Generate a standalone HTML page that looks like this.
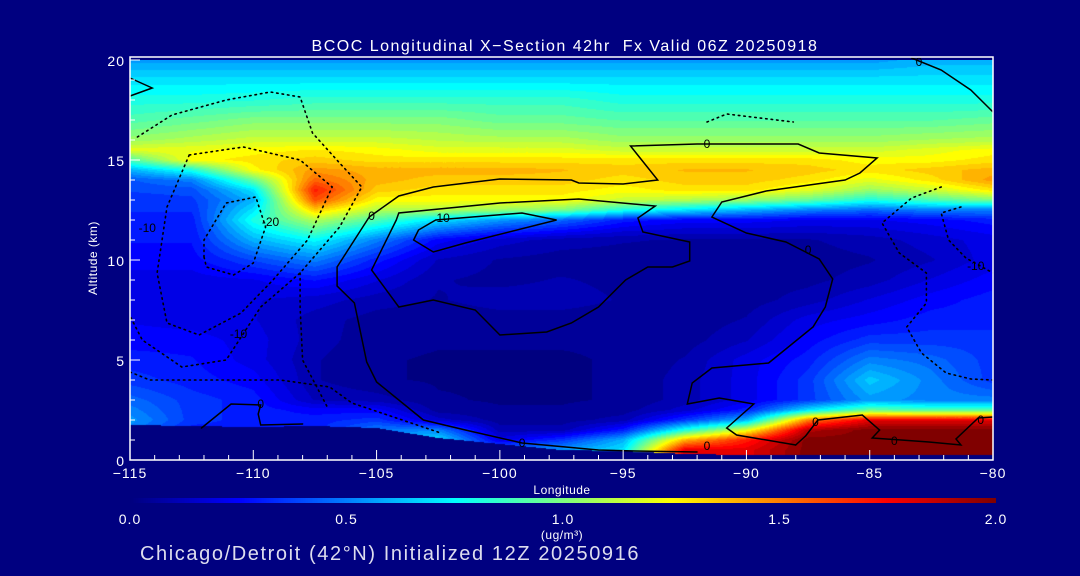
<!DOCTYPE html>
<html><head><meta charset="utf-8"><style>
html,body{margin:0;padding:0;background:#000080;}
#root{position:relative;width:1080px;height:576px;background:#000080;overflow:hidden;font-family:"Liberation Sans",sans-serif;color:#fff;}
svg text{font-family:"Liberation Sans",sans-serif;}
</style></head><body>
<div id="root">
<canvas id="field" width="863" height="400" style="position:absolute;left:130px;top:60px;"></canvas>
<canvas id="cbar" width="866" height="5" style="position:absolute;left:130px;top:498px;"></canvas>
<svg id="ov" width="1080" height="576" style="position:absolute;left:0;top:0;"></svg>
</div>
<script>
const lons=[-115,-112.5,-110,-107.5,-105,-102.5,-100,-97.5,-95,-92.5,-90,-87.5,-85,-82.5,-80];
const alts=[0,0.5,1,1.5,2,2.5,3,4,5,6,7,8,9,10,11,12,12.5,13,13.5,14,14.5,15,15.5,16,17,18,19,20];
const r0=[0.3,0.3,0.3,0.3,0.3,0.4,0.5,0.55,0.7,1.8,1.8,2,2,2,2];
const r05=[0.3,0.3,0.3,0.3,0.3,0.4,0.5,0.55,0.7,1.8,1.8,2,2,2,2];
const r1=[0.4,0.3,0.3,0.3,0.6,0.7,0.2,0.35,0.6,1.4,1.7,2,2,2,2];
const r15=[0.5,0.3,0.3,0.3,0.5,0.5,0.1,0.1,0.3,0.8,1.2,1.9,2,2,2];
const r2=[0.55,0.35,0.3,0.3,0.35,0.15,0.05,0.05,0.1,0.35,0.6,1.5,1.8,1.8,1.8];
const r25=[0.5,0.35,0.3,0.25,0.25,0.05,0.03,0.03,0.05,0.15,0.3,0.7,0.95,0.9,0.9];
const r3=[0.45,0.35,0.3,0.12,0.1,0.03,0.02,0.02,0.03,0.1,0.2,0.35,0.55,0.5,0.5];
const r4=[0.35,0.3,0.25,0.08,0.03,0.02,0.02,0.02,0.03,0.1,0.2,0.35,0.65,0.5,0.35];
const r5=[0.3,0.28,0.2,0.08,0.03,0.02,0.02,0.02,0.03,0.08,0.2,0.3,0.5,0.45,0.35];
const r6=[0.25,0.25,0.2,0.1,0.04,0.03,0.03,0.03,0.03,0.05,0.12,0.25,0.35,0.35,0.35];
const r7=[0.22,0.2,0.18,0.1,0.05,0.04,0.05,0.05,0.04,0.04,0.08,0.2,0.25,0.3,0.3];
const r8=[0.2,0.18,0.18,0.15,0.1,0.07,0.1,0.1,0.07,0.05,0.05,0.1,0.18,0.25,0.3];
const r9=[0.2,0.2,0.22,0.28,0.18,0.08,0.06,0.08,0.06,0.04,0.05,0.06,0.1,0.18,0.25];
const r10=[0.25,0.25,0.38,0.5,0.3,0.12,0.07,0.05,0.05,0.04,0.04,0.05,0.07,0.12,0.2];
const r11=[0.28,0.28,0.6,0.75,0.5,0.25,0.15,0.1,0.08,0.07,0.07,0.07,0.1,0.15,0.2];
const r12=[0.3,0.3,0.8,1.1,0.9,0.7,0.55,0.45,0.3,0.25,0.25,0.22,0.22,0.25,0.3];
const r125=[0.33,0.33,0.7,1.35,1.1,1.1,1.05,1.0,0.8,0.7,0.6,0.5,0.45,0.5,0.5];
const r13=[0.35,0.36,0.6,1.6,1.25,1.25,1.25,1.25,1.15,1.1,1.05,0.95,0.8,0.9,1.0];
const r135=[0.38,0.4,0.7,1.7,1.35,1.3,1.3,1.3,1.25,1.3,1.3,1.2,1.05,1.15,1.3];
const r14=[0.42,0.5,0.95,1.55,1.4,1.35,1.35,1.35,1.3,1.35,1.35,1.3,1.2,1.3,1.45];
const r145=[0.6,0.8,1.25,1.45,1.4,1.4,1.4,1.38,1.35,1.38,1.38,1.35,1.3,1.35,1.4];
const r15b=[0.9,1.25,1.3,1.35,1.3,1.3,1.3,1.3,1.3,1.3,1.3,1.3,1.25,1.25,1.3];
const r155=[1.2,1.22,1.25,1.28,1.25,1.2,1.2,1.2,1.15,1.15,1.15,1.15,1.15,1.2,1.25];
const r16=[1.05,1.1,1.15,1.15,1.15,1.12,1.1,1.1,1.05,1.05,1.05,1.05,1.05,1.08,1.1];
const r17=[0.9,0.95,1.0,1.0,1.0,1.0,0.95,0.95,0.92,0.92,0.92,0.92,0.92,0.92,0.95];
const r18=[0.8,0.8,0.82,0.85,0.85,0.85,0.85,0.85,0.8,0.8,0.8,0.8,0.8,0.8,0.8];
const r19=[0.7,0.7,0.7,0.7,0.7,0.7,0.7,0.7,0.7,0.7,0.7,0.7,0.7,0.7,0.7];
const r20=[0.55,0.55,0.55,0.55,0.55,0.55,0.55,0.55,0.55,0.55,0.55,0.55,0.55,0.6,0.6];
const grid=[r0,r05,r1,r15,r2,r25,r3,r4,r5,r6,r7,r8,r9,r10,r11,r12,r125,r13,r135,r14,r145,r15b,r155,r16,r17,r18,r19,r20];
const terrain=[1.75,1.7,1.65,1.7,1.6,1.1,0.8,0.5,0.45,0.3,0.25,0.25,0.25,0.25,0.25];
const xTicks=[-115,-110,-105,-100,-95,-90,-85,-80];
const yTicks=[0,5,10,15,20];
const cbTicks=["0.0","0.5","1.0","1.5","2.0"];
const c0main=[[-105.3,12.15],[-104.1,13.2],[-102.7,13.65],[-100,14.05],[-97.1,14],[-96.8,13.85],[-95,13.8],[-93.6,14],[-94.7,15.7],[-92,15.8],[-87.9,15.8],[-87.05,15.35],[-84.7,15.1],[-85.4,14.35],[-86,14],[-89.2,13.45],[-91,12.9],[-91.4,12.15],[-90,11.35],[-88.4,10.9],[-87.6,10.4],[-87.05,10.05],[-86.5,9.05],[-86.8,7.65],[-87.3,6.65],[-89.1,4.85],[-91.4,4.6],[-92.2,3.85],[-92.4,2.8],[-91.1,3.1],[-89.7,2.8],[-90.8,1.6],[-90.4,1.25],[-88,0.75]];
const c0left=[[-105.3,12.15],[-106.6,9.65],[-106.6,8.7],[-105.9,7.85],[-105.4,4.9],[-105,3.9],[-103.1,2.0],[-101.4,1.5],[-99.1,0.85],[-96,0.5],[-94.5,0.45],[-92,0.4]];
const c10a=[[-104.2,12],[-105.2,9.5],[-104.1,7.65],[-102.7,8],[-101,7.5],[-100,6.25],[-98.1,6.4],[-97.1,6.85],[-96,7.65],[-94.9,9],[-94,9.65],[-93,9.65],[-92.3,9.95],[-92.3,10.9],[-94.2,11.4],[-94.4,12.1],[-93.7,12.7],[-96.8,13.05],[-100,12.85],[-104.1,12.35],[-104.2,12]];
const c10b=[[-103.5,11],[-103.3,11.5],[-102.6,12],[-99.1,12.35],[-97.7,12],[-101.4,10.85],[-102.7,10.4],[-103.5,11]];
const cTopR=[[-83.3,20.1],[-82.1,19.5],[-80.9,18.5],[-80,17.4]];
const cTri=[[-115,19.1],[-114.1,18.6],[-115,18.2]];
const cBotR=[[-88,0.75],[-87.6,1.2],[-87.1,2],[-85.3,2.25],[-84.6,1.5],[-84.9,1.1],[-82.6,0.9],[-81.3,0.75],[-81.5,1.05],[-80.6,2.1],[-80,2.15]];
const cLowL=[[-112.1,1.6],[-110.9,2.8],[-109.7,2.75],[-109.8,2.3],[-109.7,1.75],[-108,1.8]];
const dA=[[-112,10.15],[-112,11],[-111.1,12.85],[-109.9,13.15],[-109.5,11.65],[-110,9.85],[-110.8,9.25],[-111.9,9.65],[-112,10.15]];
const dB=[[-112.6,15.25],[-110.4,15.65],[-108.1,15],[-106.8,13.65],[-107.8,11],[-109.2,9],[-110.5,7.35],[-112.2,6.25],[-113.5,6.85],[-113.9,9.35],[-113.5,12.65],[-112.6,15.25]];
const dC=[[-114.7,16.15],[-113.3,17.25],[-111.1,18],[-109.3,18.4],[-108.1,18.15],[-107.6,16.35],[-106.5,14.85],[-105.6,13.65],[-106.5,11.65],[-108.1,9.35],[-109.7,7.65],[-111.1,5],[-112.9,4.65],[-114.5,6],[-115,7.2]];
const dD=[[-115,4.4],[-114.2,4],[-111.9,4],[-108.9,4],[-106.9,3.65],[-106,2.85],[-102.4,1.35]];
const dE=[[-108.1,9.35],[-108.1,7.65],[-108,5],[-107,2.65]];
const dR1=[[-82.1,13.65],[-83.3,13.1],[-84.5,11.85],[-83.8,10.35],[-82.7,9.35],[-82.7,7.85],[-83.5,6.65],[-82.9,5.35],[-81.9,4.35],[-80.9,4.05],[-80,4]];
const dR2=[[-81.3,12.65],[-82.1,12.35],[-81.8,11],[-81.1,10.1],[-80,9.35]];
const dTop=[[-91.6,16.9],[-90.8,17.3],[-88.1,16.9]];

const X0=130,X1=993,Y0=460,Y1=60;
const xs=l=>X0+(l+115)/35*(X1-X0);
const ys=a=>Y0+(a/20)*(Y1-Y0);
function jet(f){f=Math.max(0,Math.min(1,f));
 const c=t=>Math.max(0,Math.min(1,t));
 const r=c(Math.min(4*f-1.5,-4*f+4.5)),g=c(Math.min(4*f-0.5,-4*f+3.5)),b=c(Math.min(4*f+0.5,-4*f+2.5));
 return [r*255,g*255,b*255];}
function interp1(arr,v){for(let i=0;i<arr.length-1;i++){if(v<=arr[i+1]||i==arr.length-2){const lo=arr[i],hi=arr[i+1];return [i,Math.max(0,Math.min(1,(v-lo)/(hi-lo)))];}}}
(function(){
 const cv=document.getElementById('field'),ctx=cv.getContext('2d');
 const W=cv.width,H=cv.height,img=ctx.createImageData(W,H);
 for(let py=0;py<H;py++){
  const a=20-(py+0.5)/H*20;const[ri,rt]=interp1(alts,a);
  for(let px=0;px<W;px++){
   const l=-115+(px+0.5)/W*35;const[ci,ct]=interp1(lons,l);
   const t=terrain[ci]*(1-ct)+terrain[ci+1]*ct;
   let col;
   if(a<t){col=[0,0,128];}
   else{const v=(grid[ri][ci]*(1-ct)+grid[ri][ci+1]*ct)*(1-rt)+(grid[ri+1][ci]*(1-ct)+grid[ri+1][ci+1]*ct)*rt;
    const q=Math.round(v/2*40)/40;col=jet(q);}
   const k=(py*W+px)*4;img.data[k]=col[0];img.data[k+1]=col[1];img.data[k+2]=col[2];img.data[k+3]=255;}
 }
 ctx.putImageData(img,0,0);
 const cb=document.getElementById('cbar'),c2=cb.getContext('2d');
 for(let x=0;x<cb.width;x++){const c=jet(x/(cb.width-1));c2.fillStyle=`rgb(${c[0]|0},${c[1]|0},${c[2]|0})`;c2.fillRect(x,0,1,5);}
})();
const NS='http://www.w3.org/2000/svg';const ov=document.getElementById('ov');
function mk(tag,attrs,name,txt){const e=document.createElementNS(NS,tag);for(const k in attrs)e.setAttribute(k,attrs[k]);
 
 
 if(txt!==undefined)e.textContent=txt;ov.appendChild(e);return e;}
function line(pts,name,dotted){const d=pts.map((p,i)=>(i?'L':'M')+xs(p[0]).toFixed(1)+' '+ys(p[1]).toFixed(1)).join(' ');
 mk('path',{d:d,fill:'none',stroke:'#000','stroke-width':dotted?1.6:1.5,'stroke-dasharray':dotted?'1.5,4':'none','stroke-linecap':'round'},name);}
line(c0main,'contour-zero-main');line(c0left,'contour-zero-west');line(c10a,'contour-ten-outer');line(c10b,'contour-ten-inner');
line(cTopR,'contour-zero-top-right');line(cTri,'contour-zero-top-left');line(cBotR,'contour-zero-bottom-right');line(cLowL,'contour-zero-low-west');
line(dA,'contour-neg20-inner',1);line(dB,'contour-neg-middle',1);line(dC,'contour-neg10-outer',1);line(dD,'contour-neg-low',1);line(dE,'contour-neg-stem',1);
line(dR1,'contour-neg10-east',1);line(dR2,'contour-neg-east-inner',1);line(dTop,'contour-neg-top',1);
const labs=[[-105.2,12.2,'0'],[-102.3,12.1,'10'],[-91.6,15.8,'0'],[-87.5,10.5,'0'],[-83,19.9,'0'],[-109.3,11.9,'-20'],[-114.3,11.6,'-10'],[-110.6,6.3,'-10'],[-80.7,9.7,'-10'],[-109.7,2.8,'0'],[-99.1,0.85,'0'],[-91.6,0.7,'0'],[-87.2,1.9,'0'],[-84,0.95,'0'],[-80.5,2.0,'0']];
labs.forEach(l=>{mk('text',{x:xs(l[0]),y:ys(l[1])+4,'font-size':12,fill:'#000','text-anchor':'middle'},'contour-label',l[2]);});
mk('rect',{x:X0,y:57,width:X1-X0,height:Y0-57,fill:'none',stroke:'#fff','stroke-width':1.5},'plot-frame');
for(let l=-115;l<=-80;l++){const big=l%5==0;mk('line',{x1:xs(l),x2:xs(l),y1:Y0,y2:Y0-(big?10:5),stroke:'#fff','stroke-width':1},'x-tick');}
for(let a=0;a<=20;a++){const big=a%5==0;mk('line',{x1:X0,x2:X0+(big?10:5),y1:ys(a),y2:ys(a),stroke:'#fff','stroke-width':1},'y-tick');}
xTicks.forEach(l=>mk('text',{x:xs(l),y:478,'font-size':14,'letter-spacing':1,fill:'#fff','text-anchor':'middle'},'x-tick-label',(l<0?'\u2212':'')+Math.abs(l)));
yTicks.forEach(a=>mk('text',{x:125,y:ys(a)+6,'font-size':14,'letter-spacing':1,fill:'#fff','text-anchor':'end'},'y-tick-label',String(a)));
mk('text',{x:562,y:494,'font-size':12,'letter-spacing':0.5,fill:'#fff','text-anchor':'middle'},'x-axis-title','Longitude');
mk('text',{x:97,y:258,'font-size':12,'letter-spacing':0.5,fill:'#fff','text-anchor':'middle',transform:'rotate(-90 97 258)'},'y-axis-title','Altitude (km)');
mk('text',{x:565,y:51,'font-size':16,'letter-spacing':1.5,fill:'#fff','text-anchor':'middle'},'chart-title','BCOC Longitudinal X\u2212Section 42hr\u00A0\u00A0Fx Valid 06Z 20250918');
cbTicks.forEach((t,i)=>mk('text',{x:130+i*216.5,y:524,'font-size':14,'letter-spacing':1,fill:'#fff','text-anchor':'middle'},'colorbar-tick-label',t));
mk('text',{x:562,y:539,'font-size':12,'letter-spacing':0.5,fill:'#fff','text-anchor':'middle'},'colorbar-unit','(ug/m\u00B3)');
mk('text',{x:140,y:560,'font-size':20,'letter-spacing':1.6,fill:'#dde','text-anchor':'start'},'footer-text','Chicago/Detroit (42\u00B0N) Initialized 12Z 20250916');
</script>
</body></html>
